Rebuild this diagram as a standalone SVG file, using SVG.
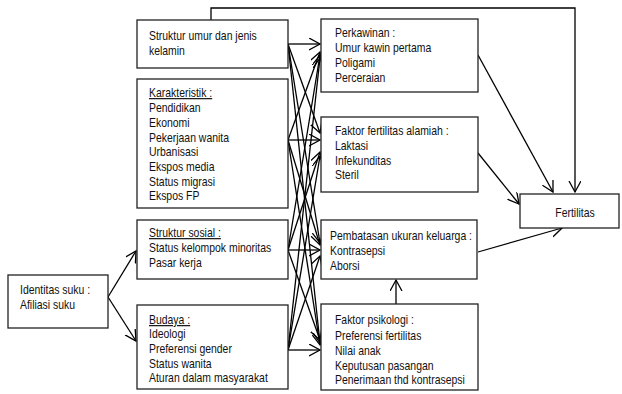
<svg xmlns="http://www.w3.org/2000/svg" width="622" height="394" viewBox="0 0 622 394">
<style>
.box{fill:#fff;stroke:#222;stroke-width:1.3}
text{font-family:"Liberation Sans",Arial,sans-serif;font-size:12px;fill:#111}
.u{text-decoration:underline}
.c line,.c path,.c polyline{stroke:#000;stroke-width:1.3;fill:none}
</style>
<defs>
<marker id="a" markerUnits="userSpaceOnUse" markerWidth="14" markerHeight="14" refX="11" refY="6" orient="auto">
<path d="M0,0 L11,6 L0,12" fill="none" stroke="#000" stroke-width="1.3"/>
</marker>
</defs>
<g class="c" id="connectors">
<polyline points="211,20 211,8 575,8 575,192" marker-end="url(#a)"/>
<line x1="108" y1="297" x2="136" y2="251" marker-end="url(#a)"/>
<line x1="108" y1="297" x2="136" y2="341" marker-end="url(#a)"/>
<line x1="288" y1="44" x2="320" y2="44" marker-end="url(#a)"/>
<line x1="288" y1="44" x2="320" y2="133" marker-end="url(#a)"/>
<line x1="288" y1="44" x2="320" y2="243" marker-end="url(#a)"/>
<line x1="288" y1="44" x2="320" y2="343" marker-end="url(#a)"/>
<line x1="288" y1="140" x2="320" y2="52" marker-end="url(#a)"/>
<line x1="288" y1="140" x2="320" y2="140" marker-end="url(#a)"/>
<line x1="288" y1="140" x2="320" y2="245" marker-end="url(#a)"/>
<line x1="288" y1="140" x2="320" y2="345" marker-end="url(#a)"/>
<line x1="288" y1="250" x2="320" y2="55" marker-end="url(#a)"/>
<line x1="288" y1="250" x2="320" y2="152" marker-end="url(#a)"/>
<line x1="288" y1="250" x2="320" y2="250" marker-end="url(#a)"/>
<line x1="288" y1="250" x2="320" y2="340" marker-end="url(#a)"/>
<line x1="288" y1="350" x2="320" y2="58" marker-end="url(#a)"/>
<line x1="288" y1="350" x2="320" y2="156" marker-end="url(#a)"/>
<line x1="288" y1="350" x2="320" y2="256" marker-end="url(#a)"/>
<line x1="288" y1="350" x2="320" y2="350" marker-end="url(#a)"/>
<line x1="396" y1="304" x2="396" y2="280" marker-end="url(#a)"/>
<line x1="478" y1="55" x2="553" y2="192" marker-end="url(#a)"/>
<line x1="478" y1="153" x2="519" y2="204" marker-end="url(#a)"/>
<line x1="478" y1="252" x2="562" y2="228" marker-end="url(#a)"/>
</g>
<g id="struktur-umur">
<rect class="box" x="137" y="20" width="151" height="48"/>
<g transform="matrix(0.87,0,0,1,19.37,0)">
<text x="149" y="40">Struktur umur dan jenis</text>
<text x="149" y="55">kelamin</text>
</g>
</g>
<g id="karakteristik">
<rect class="box" x="137" y="79" width="151" height="129"/>
<g transform="matrix(0.87,0,0,1,19.37,0)">
<text x="149" y="97" class="u">Karakteristik :</text>
<text x="149" y="112">Pendidikan</text>
<text x="149" y="127">Ekonomi</text>
<text x="149" y="142">Pekerjaan wanita</text>
<text x="149" y="156">Urbanisasi</text>
<text x="149" y="171">Ekspos media</text>
<text x="149" y="186">Status migrasi</text>
<text x="149" y="200">Ekspos FP</text>
</g>
</g>
<g id="struktur-sosial">
<rect class="box" x="137" y="220" width="151" height="59"/>
<g transform="matrix(0.87,0,0,1,19.37,0)">
<text x="149" y="237" class="u">Struktur sosial :</text>
<text x="149" y="252">Status kelompok minoritas</text>
<text x="149" y="267">Pasar kerja</text>
</g>
</g>
<g id="identitas">
<rect class="box" x="8" y="275" width="100" height="53"/>
<g transform="matrix(0.87,0,0,1,2.6,0)">
<text x="20" y="294">Identitas suku :</text>
<text x="20" y="309">Afiliasi suku</text>
</g>
</g>
<g id="budaya">
<rect class="box" x="137" y="305" width="151" height="84"/>
<g transform="matrix(0.87,0,0,1,19.37,0)">
<text x="149" y="324" class="u">Budaya :</text>
<text x="149" y="338">Ideologi</text>
<text x="149" y="353">Preferensi gender</text>
<text x="149" y="368">Status wanita</text>
<text x="149" y="382">Aturan dalam masyarakat</text>
</g>
</g>
<g id="perkawinan">
<rect class="box" x="321" y="19" width="157" height="73"/>
<g transform="matrix(0.87,0,0,1,43.55,0)">
<text x="335" y="37">Perkawinan :</text>
<text x="335" y="52">Umur kawin pertama</text>
<text x="335" y="67">Poligami</text>
<text x="335" y="82">Perceraian</text>
</g>
</g>
<g id="fertilitas-alamiah">
<rect class="box" x="321" y="117" width="157" height="75"/>
<g transform="matrix(0.87,0,0,1,43.55,0)">
<text x="335" y="135">Faktor fertilitas alamiah :</text>
<text x="335" y="150">Laktasi</text>
<text x="335" y="165">Infekunditas</text>
<text x="335" y="179">Steril</text>
</g>
</g>
<g id="pembatasan">
<rect class="box" x="321" y="220" width="156" height="59"/>
<g transform="matrix(0.87,0,0,1,42.9,0)">
<text x="330" y="240">Pembatasan ukuran keluarga :</text>
<text x="330" y="255">Kontrasepsi</text>
<text x="330" y="270">Aborsi</text>
</g>
</g>
<g id="psikologi">
<rect class="box" x="321" y="304" width="157" height="86"/>
<g transform="matrix(0.87,0,0,1,43.55,0)">
<text x="335" y="324">Faktor psikologi :</text>
<text x="335" y="340">Preferensi fertilitas</text>
<text x="335" y="355">Nilai anak</text>
<text x="335" y="370">Keputusan pasangan</text>
<text x="335" y="384">Penerimaan thd kontrasepsi</text>
</g>
</g>
<g id="fertilitas">
<rect class="box" x="520" y="194" width="99" height="34"/>
<g transform="matrix(0.87,0,0,1,74.75,0)">
<text x="575" y="217" text-anchor="middle">Fertilitas</text>
</g>
</g>
</svg>
